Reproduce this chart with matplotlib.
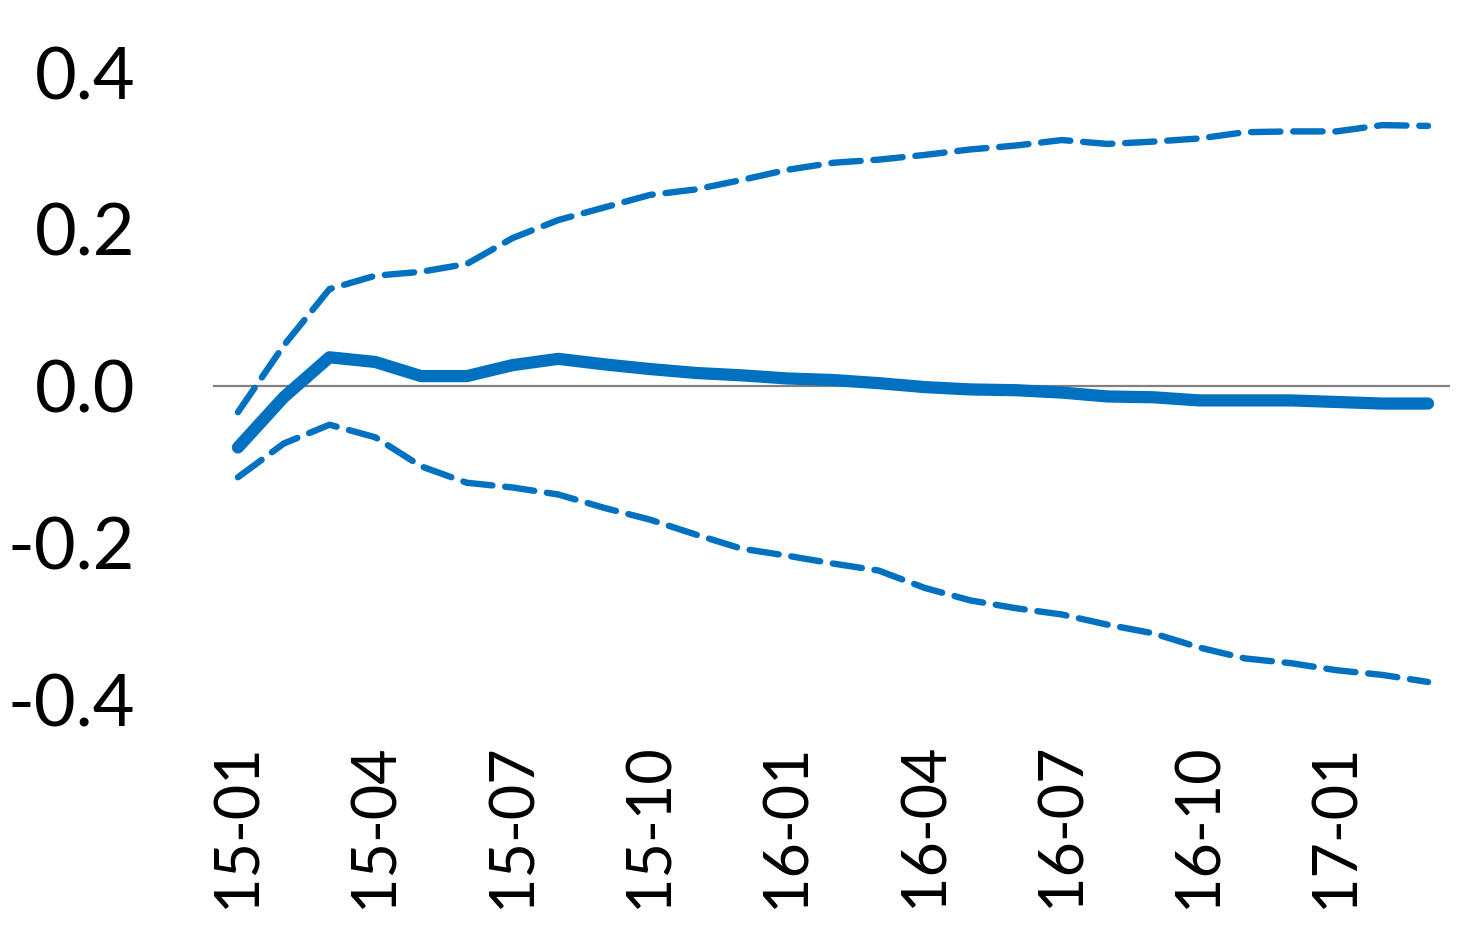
import matplotlib
matplotlib.use("Agg")
import matplotlib.pyplot as plt

plt.rcParams['font.family'] = ['Lato', 'DejaVu Sans']

months = ['15-01', '15-02', '15-03', '15-04', '15-05', '15-06', '15-07', '15-08', '15-09',
          '15-10', '15-11', '15-12', '16-01', '16-02', '16-03', '16-04', '16-05', '16-06',
          '16-07', '16-08', '16-09', '16-10', '16-11', '16-12', '17-01', '17-02', '17-03']

central = [-0.078, -0.014, 0.037, 0.031, 0.013, 0.013, 0.027, 0.035, 0.028,
           0.022, 0.017, 0.014, 0.010, 0.008, 0.004, -0.001, -0.004, -0.005,
           -0.008, -0.013, -0.014, -0.018, -0.018, -0.018, -0.020, -0.022, -0.022]

upper = [-0.033, 0.052, 0.124, 0.141, 0.146, 0.156, 0.189, 0.212, 0.228,
         0.244, 0.251, 0.263, 0.276, 0.285, 0.289, 0.295, 0.302, 0.307,
         0.314, 0.309, 0.312, 0.316, 0.324, 0.325, 0.325, 0.333, 0.332]

lower = [-0.116, -0.073, -0.049, -0.065, -0.102, -0.123, -0.129, -0.138, -0.155,
         -0.170, -0.189, -0.207, -0.216, -0.226, -0.235, -0.257, -0.273, -0.283,
         -0.291, -0.304, -0.315, -0.333, -0.347, -0.353, -0.362, -0.368, -0.377]

yticks = [-0.4, -0.2, 0.0, 0.2, 0.4]
blue = '#0070C0'

fig = plt.figure(figsize=(14.82, 9.48), dpi=100)
ax = fig.add_axes([0.1437, 0.231, 0.8347, 0.728])

x = list(range(len(months)))
ax.axhline(0, color='#808080', lw=1.6, zorder=1)
ax.plot(x, upper, color=blue, lw=4.6, dashes=(4.6, 2.0), dash_capstyle='round', zorder=2)
ax.plot(x, lower, color=blue, lw=4.6, dashes=(4.6, 2.0), dash_capstyle='round', zorder=2)
ax.plot(x, central, color=blue, lw=8.8, solid_capstyle='round', solid_joinstyle='round', zorder=3)

ax.set_xlim(-0.546, 26.48)
ax.set_ylim(-0.437, 0.443)
ax.set_yticks(yticks)
ax.set_yticklabels(['%.1f' % v for v in yticks])
ax.set_xticks(x[::3])
ax.set_xticklabels(months[::3], rotation=90)
ax.tick_params(axis='y', length=0, pad=56, labelsize=52)
ax.tick_params(axis='x', length=0, pad=10, labelsize=44)
for s in ax.spines.values():
    s.set_visible(False)

fig.savefig('out.png', dpi=100)
